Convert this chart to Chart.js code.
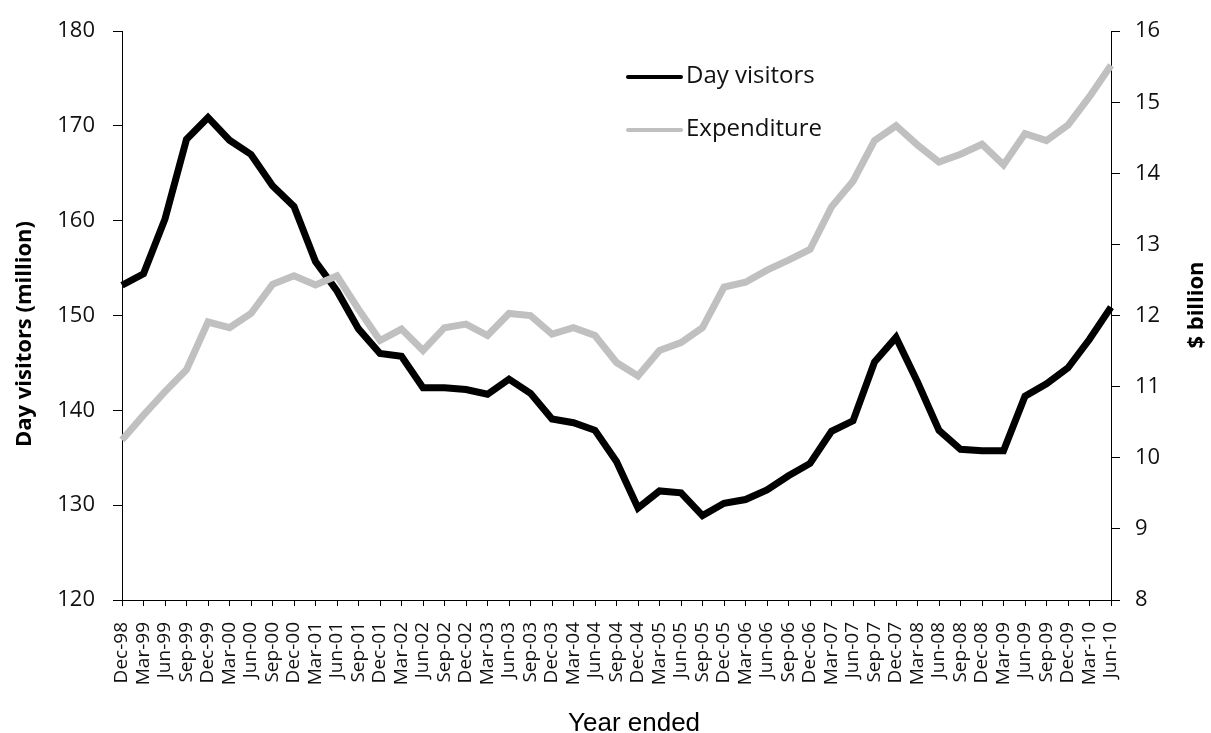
<!DOCTYPE html>
<html>
<head>
<meta charset="utf-8">
<script src="https://cdn.jsdelivr.net/npm/chart.js@4/dist/chart.umd.min.js"></script>
<style>
  html, body { margin: 0; padding: 0; background: #fff; }
  #grafico { display: block; }
</style>
</head>
<body>
<canvas id="grafico" width="1211" height="733"></canvas>
<script>
const trimestres = ['Dec-98', 'Mar-99', 'Jun-99', 'Sep-99', 'Dec-99', 'Mar-00', 'Jun-00', 'Sep-00',
  'Dec-00', 'Mar-01', 'Jun-01', 'Sep-01', 'Dec-01', 'Mar-02', 'Jun-02', 'Sep-02', 'Dec-02',
  'Mar-03', 'Jun-03', 'Sep-03', 'Dec-03', 'Mar-04', 'Jun-04', 'Sep-04', 'Dec-04', 'Mar-05',
  'Jun-05', 'Sep-05', 'Dec-05', 'Mar-06', 'Jun-06', 'Sep-06', 'Dec-06', 'Mar-07', 'Jun-07',
  'Sep-07', 'Dec-07', 'Mar-08', 'Jun-08', 'Sep-08', 'Dec-08', 'Mar-09', 'Jun-09', 'Sep-09',
  'Dec-09', 'Mar-10', 'Jun-10'];

// day visitors, million (left axis)
const visitantes = [153.2, 154.4, 160.2, 168.6, 170.9, 168.5, 167.0, 163.7, 161.5, 155.7,
  152.6, 148.6, 146.0, 145.7, 142.4, 142.4, 142.2, 141.7, 143.3, 141.8, 139.1, 138.7,
  137.9, 134.6, 129.7, 131.5, 131.3, 128.9, 130.2, 130.6, 131.6, 133.1, 134.4, 137.8,
  138.9, 145.1, 147.7, 143.0, 137.9, 135.9, 135.75, 135.75, 141.5, 142.8, 144.5, 147.5, 150.9];

// expenditure, $ billion (right axis)
const gastos = [10.25, 10.60, 10.93, 11.24, 11.91, 11.83, 12.03, 12.44, 12.56, 12.43,
  12.56, 12.09, 11.65, 11.81, 11.51, 11.83, 11.88, 11.72, 12.03, 12.00, 11.74, 11.83,
  11.72, 11.34, 11.15, 11.51, 11.62, 11.83, 12.40, 12.47, 12.64, 12.78, 12.93, 13.53,
  13.89, 14.46, 14.67, 14.40, 14.16, 14.27, 14.41, 14.12, 14.56, 14.46, 14.68, 15.08, 15.52];

const ticksEsq = { min: 120, max: 180, passo: 10 };
const ticksDir = { min: 8, max: 16, passo: 1 };

const tituloEsq = 'Day visitors (million)';
const tituloDir = '$ billion';
const tituloX = 'Year ended';

const PRETO = '#000000';
const CINZA = '#c0c0c0';
const FONTE = "'Open Sans', sans-serif";

// titulos dos eixos e legenda desenhados a mao
const extras = {
  id: 'extras',
  afterDraw(chart) {
    const ctx = chart.ctx;
    ctx.save();
    ctx.fillStyle = '#000';

    ctx.font = "bold 22px " + FONTE;
    ctx.textAlign = 'center';
    ctx.textBaseline = 'middle';
    ctx.translate(25, 334);
    ctx.rotate(-Math.PI / 2);
    ctx.fillText(tituloEsq, 0, 0);
    ctx.setTransform(1, 0, 0, 1, 0, 0);

    ctx.translate(1197, 305);
    ctx.rotate(-Math.PI / 2);
    ctx.fillText(tituloDir, 0, 0);
    ctx.setTransform(1, 0, 0, 1, 0, 0);

    ctx.font = "26px 'Liberation Sans', Arial, sans-serif";
    ctx.textAlign = 'left';
    ctx.textBaseline = 'alphabetic';
    ctx.fillText(tituloX, 568, 731);

    // legenda
    ctx.font = "24px " + FONTE;
    ctx.textBaseline = 'middle';
    const linhas = [77, 130];
    chart.data.datasets.forEach((ds, i) => {
      const y = linhas[i];
      ctx.strokeStyle = ds.borderColor;
      ctx.lineWidth = 4;
      ctx.lineCap = 'round';
      ctx.beginPath();
      ctx.moveTo(628, y);
      ctx.lineTo(681, y);
      ctx.stroke();
      ctx.fillStyle = '#111';
      ctx.fillText(ds.label, 686, y - 1);
    });
    ctx.restore();
  }
};

const ctxGrafico = document.getElementById('grafico');

new Chart(ctxGrafico, {
  type: 'line',
  data: {
    labels: trimestres,
    datasets: [{
      label: 'Day visitors',
      data: visitantes,
      borderColor: PRETO,
      backgroundColor: PRETO,
      borderWidth: 7,
      pointRadius: 0,
      tension: 0,
      yAxisID: 'y',
      order: 1
    }, {
      label: 'Expenditure',
      data: gastos,
      borderColor: CINZA,
      backgroundColor: CINZA,
      borderWidth: 7,
      pointRadius: 0,
      tension: 0,
      yAxisID: 'y1',
      order: 0
    }]
  },
  options: {
    responsive: false,
    animation: false,
    layout: { padding: { top: 26, left: 0, right: 0, bottom: 0 } },
    plugins: {
      legend: { display: false },
      tooltip: { enabled: false }
    },
    scales: {
      x: {
        grid: { drawOnChartArea: false, tickLength: 6, color: '#000' },
        border: { color: '#000', width: 1 },
        ticks: {
          autoSkip: false,
          maxRotation: 90,
          minRotation: 90,
          padding: 16,
          color: '#111',
          font: { family: FONTE, size: 19 }
        },
        afterFit: s => { s.height = 133; }
      },
      y: {
        position: 'left',
        min: ticksEsq.min,
        max: ticksEsq.max,
        grid: { drawOnChartArea: false, tickLength: 9, color: '#000' },
        border: { color: '#000', width: 1 },
        ticks: {
          stepSize: ticksEsq.passo,
          padding: 18,
          color: '#111',
          font: { family: FONTE, size: 22 }
        },
        afterFit: s => { s.width = 122; }
      },
      y1: {
        position: 'right',
        min: ticksDir.min,
        max: ticksDir.max,
        grid: { drawOnChartArea: false, tickLength: 9, color: '#000' },
        border: { color: '#000', width: 1 },
        ticks: {
          stepSize: ticksDir.passo,
          padding: 15,
          color: '#111',
          font: { family: FONTE, size: 22 }
        },
        afterFit: s => { s.width = 100; }
      }
    }
  },
  plugins: [extras]
});
</script>
</body>
</html>
